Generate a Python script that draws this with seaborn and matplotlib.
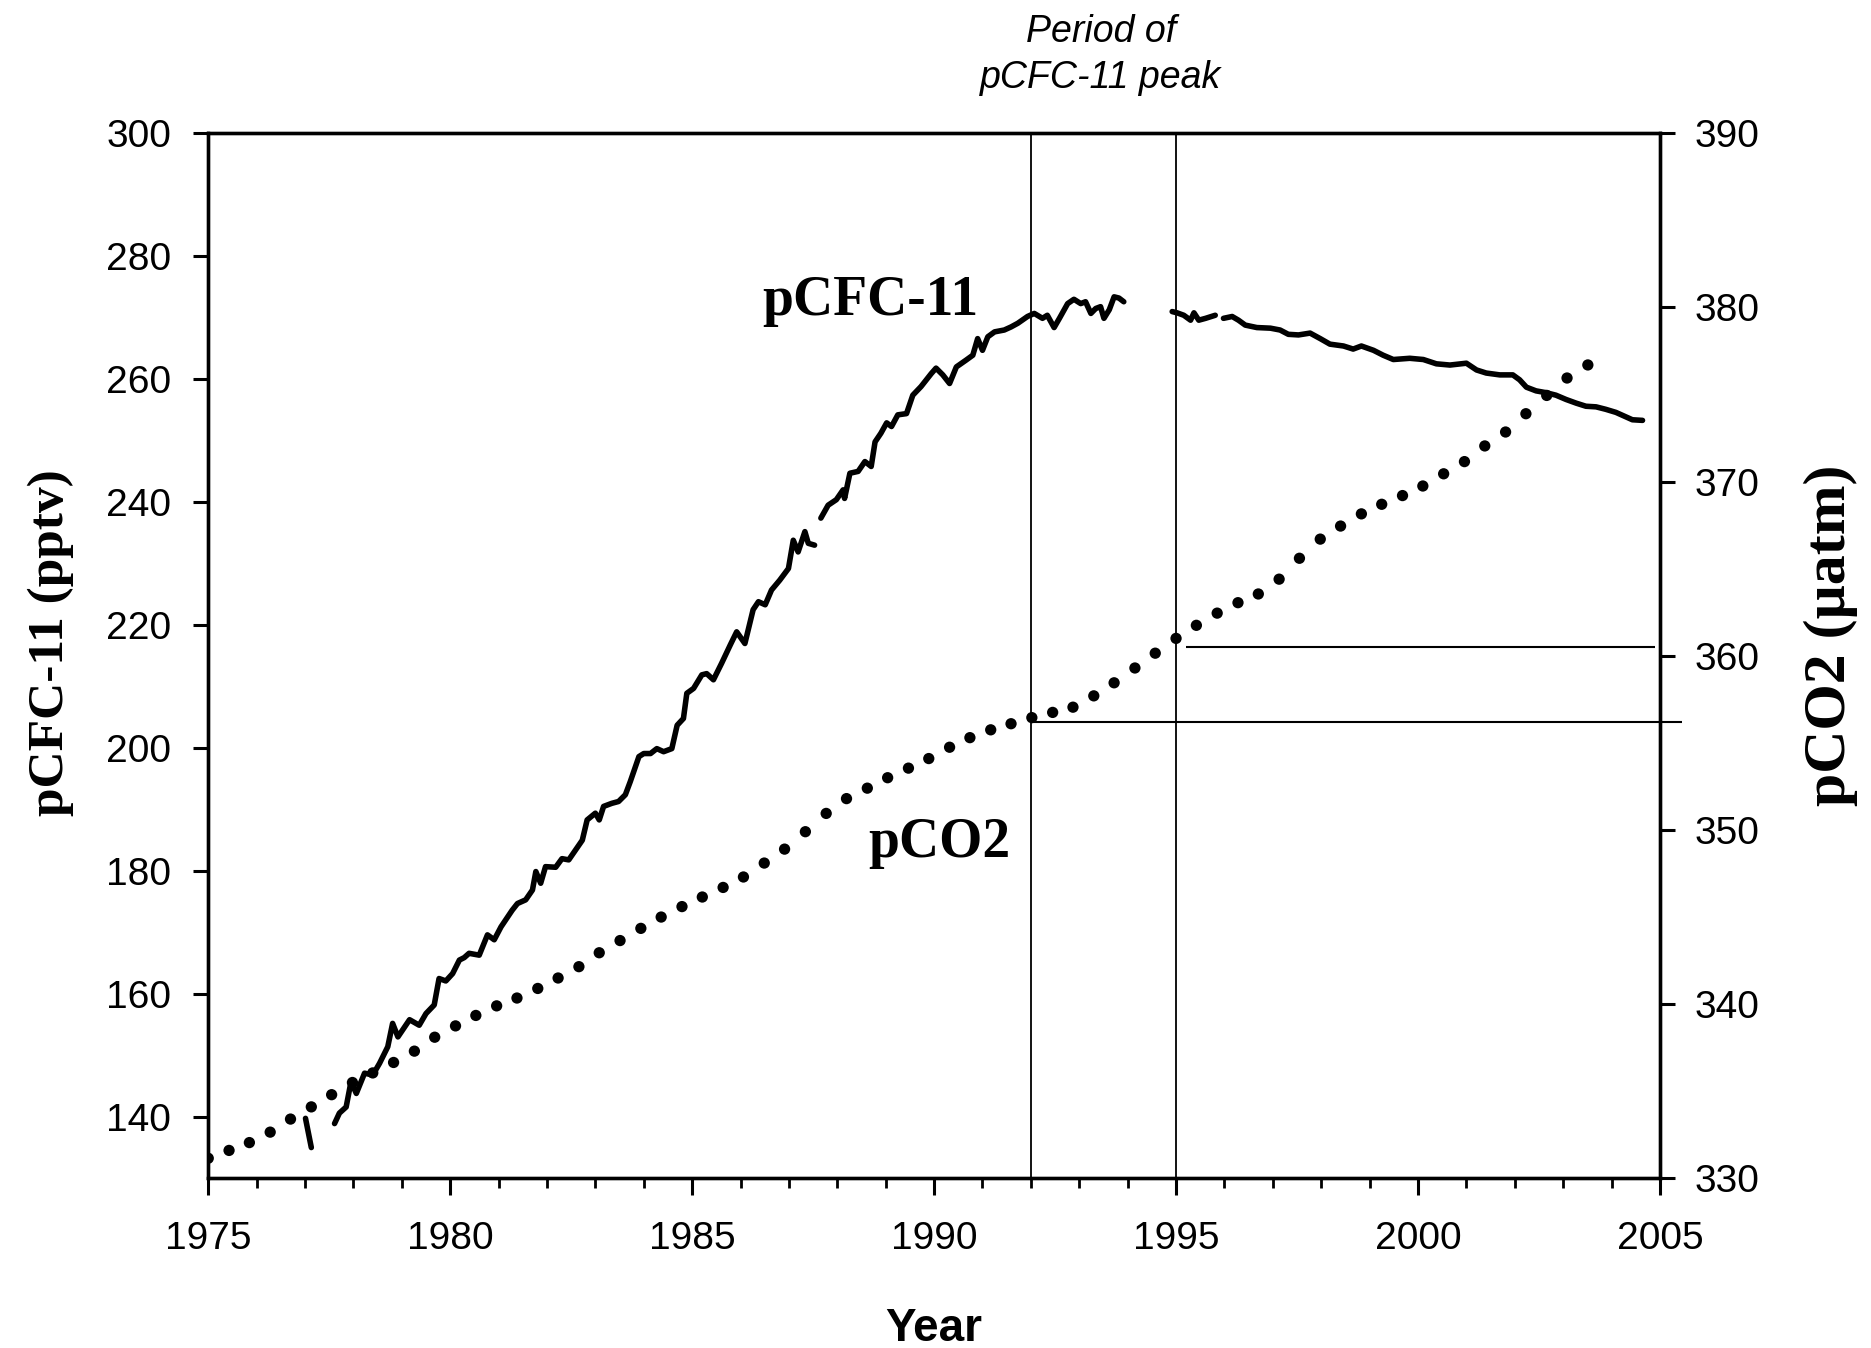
import numpy as np
import pandas as pd
import matplotlib
matplotlib.use("Agg")
import matplotlib.pyplot as plt
import matplotlib.transforms as mtransforms
from matplotlib.ticker import MultipleLocator
import seaborn as sns

# ---------------- data ----------------
pco2_years = [1975.00, 1975.43, 1975.85, 1976.28, 1976.70, 1977.13, 1977.55, 1977.98,
              1978.40, 1978.83, 1979.26, 1979.68, 1980.11, 1980.53, 1980.96, 1981.38,
              1981.81, 1982.23, 1982.66, 1983.08, 1983.51, 1983.94, 1984.36, 1984.79,
              1985.21, 1985.64, 1986.06, 1986.49, 1986.91, 1987.34, 1987.77, 1988.19,
              1988.62, 1989.04, 1989.47, 1989.89, 1990.32, 1990.74, 1991.17, 1991.59,
              1992.02, 1992.45, 1992.87, 1993.30, 1993.72, 1994.15, 1994.57, 1995.00,
              1995.42, 1995.85, 1996.28, 1996.70, 1997.13, 1997.55, 1997.98, 1998.40,
              1998.83, 1999.25, 1999.68, 2000.10, 2000.53, 2000.96, 2001.38, 2001.81,
              2002.23, 2002.66, 2003.08, 2003.51]
pco2_values = [331.15, 331.6, 332.05, 332.65, 333.4, 334.1, 334.8, 335.5,
               336.05, 336.65, 337.3, 338.1, 338.75, 339.35, 339.9, 340.35,
               340.9, 341.5, 342.15, 342.95, 343.65, 344.35, 345.0, 345.6,
               346.15, 346.7, 347.3, 348.1, 348.9, 349.9, 350.95, 351.8,
               352.4, 353.0, 353.55, 354.1, 354.75, 355.3, 355.75, 356.1,
               356.45, 356.75, 357.05, 357.7, 358.45, 359.3, 360.15, 361.0,
               361.75, 362.45, 363.05, 363.55, 364.4, 365.6, 366.7, 367.45,
               368.15, 368.7, 369.2, 369.75, 370.45, 371.15, 372.05, 372.85,
               373.9, 374.95, 375.95, 376.7]

# pCFC-11 record, split into the separate pieces drawn in the reference
cfc_seg1_years = [1977.01, 1977.13]
cfc_seg1_values = [139.75, 135.0]

cfc_seg2_years = [1977.61, 1977.71, 1977.85, 1977.95, 1978.06, 1978.23, 1978.40, 1978.54,
                  1978.71, 1978.81, 1978.92, 1979.16, 1979.36, 1979.50, 1979.67, 1979.77,
                  1979.91, 1980.05, 1980.19, 1980.29, 1980.39, 1980.60, 1980.77, 1980.91,
                  1981.05, 1981.28, 1981.39, 1981.56, 1981.70, 1981.77, 1981.87, 1981.97,
                  1982.18, 1982.31, 1982.45, 1982.73, 1982.83, 1983.00, 1983.08, 1983.17,
                  1983.34, 1983.48, 1983.62, 1983.72, 1983.90, 1984.00, 1984.14, 1984.27,
                  1984.41, 1984.58, 1984.69, 1984.82, 1984.89, 1985.03, 1985.20, 1985.30,
                  1985.44, 1985.61, 1985.79, 1985.92, 1986.09, 1986.26, 1986.37, 1986.51,
                  1986.64, 1986.81, 1986.99, 1987.09, 1987.19, 1987.33, 1987.40, 1987.53]
cfc_seg2_values = [138.9, 140.6, 141.6, 145.7, 143.8, 147.1, 146.8, 148.7,
                   151.4, 155.2, 153.0, 155.8, 154.9, 156.8, 158.2, 162.5,
                   162.1, 163.3, 165.5, 165.9, 166.6, 166.3, 169.6, 168.8,
                   170.9, 173.6, 174.7, 175.3, 176.9, 179.9, 178.0, 180.7,
                   180.6, 182.0, 181.8, 185.0, 188.3, 189.4, 188.3, 190.5,
                   191.0, 191.3, 192.4, 194.5, 198.6, 199.1, 199.1, 199.9,
                   199.4, 199.9, 203.7, 204.8, 208.9, 209.7, 211.9, 212.1,
                   211.1, 213.8, 216.8, 218.9, 217.0, 222.5, 223.8, 223.3,
                   225.7, 227.3, 229.2, 233.8, 231.9, 235.2, 233.3, 233.0]

cfc_seg3_years = [1987.66, 1987.81, 1987.98, 1988.12, 1988.15, 1988.26, 1988.43, 1988.57,
                  1988.70, 1988.78, 1988.90, 1989.02, 1989.12, 1989.25, 1989.43, 1989.56,
                  1989.73, 1989.94, 1990.04, 1990.18, 1990.32, 1990.46, 1990.66, 1990.80,
                  1990.90, 1991.00, 1991.11, 1991.25, 1991.45, 1991.59, 1991.73, 1991.93,
                  1992.07, 1992.24, 1992.34, 1992.48, 1992.59, 1992.76, 1992.89, 1993.03,
                  1993.13, 1993.24, 1993.34, 1993.44, 1993.51, 1993.62, 1993.72, 1993.82,
                  1993.92]
cfc_seg3_values = [237.4, 239.5, 240.4, 242.0, 240.6, 244.7, 245.0, 246.6,
                   245.8, 249.8, 251.2, 252.9, 252.3, 254.2, 254.4, 257.4,
                   258.8, 260.9, 261.8, 260.7, 259.3, 262.0, 263.1, 263.9,
                   266.6, 264.7, 266.9, 267.7, 268.0, 268.5, 269.1, 270.2,
                   270.7, 269.9, 270.4, 268.4, 269.9, 272.3, 273.0, 272.3,
                   272.6, 270.7, 271.5, 271.8, 269.9, 271.3, 273.4, 273.2,
                   272.6]

cfc_seg4_years = [1994.92, 1995.02, 1995.16, 1995.30, 1995.37, 1995.47, 1995.61, 1995.81]
cfc_seg4_values = [271.0, 270.8, 270.4, 269.6, 270.8, 269.6, 269.9, 270.4]

cfc_seg5_years = [1995.98, 1996.16, 1996.29, 1996.43, 1996.67, 1996.95, 1997.15, 1997.32,
                  1997.53, 1997.77, 1997.98, 1998.18, 1998.46, 1998.66, 1998.83, 1999.08,
                  1999.28, 1999.49, 1999.83, 2000.11, 2000.38, 2000.66, 2001.00, 2001.21,
                  2001.41, 2001.69, 2001.96, 2002.10, 2002.24, 2002.44, 2002.65, 2002.85,
                  2003.06, 2003.27, 2003.47, 2003.68, 2003.88, 2004.09, 2004.26, 2004.43,
                  2004.64]
cfc_seg5_values = [269.9, 270.2, 269.6, 268.8, 268.4, 268.3, 268.0, 267.3,
                   267.2, 267.5, 266.6, 265.7, 265.4, 264.9, 265.4, 264.7,
                   263.9, 263.2, 263.4, 263.2, 262.5, 262.3, 262.6, 261.5,
                   261.0, 260.7, 260.7, 259.9, 258.7, 258.1, 257.8, 257.4,
                   256.7, 256.1, 255.6, 255.5, 255.1, 254.6, 254.0, 253.4,
                   253.3]

# peak-period markers and pCO2 reference levels
peak_years = [1992, 1995]
ref_pco2 = [356.2, 360.5]
ref_start = [1992.0, 1995.2]
ref_end = [2005.45, 2004.9]

x_ticks = [1975, 1980, 1985, 1990, 1995, 2000, 2005]
left_ticks = [140, 160, 180, 200, 220, 240, 260, 280, 300]
right_ticks = [330, 340, 350, 360, 370, 380, 390]

# ---------------- build frames ----------------
segs = [(cfc_seg1_years, cfc_seg1_values), (cfc_seg2_years, cfc_seg2_values),
        (cfc_seg3_years, cfc_seg3_values), (cfc_seg4_years, cfc_seg4_values),
        (cfc_seg5_years, cfc_seg5_values)]
cfc_df = pd.concat([pd.DataFrame({"year": y, "cfc": v, "seg": i})
                    for i, (y, v) in enumerate(segs)], ignore_index=True)
pco2_df = pd.DataFrame({"year": pco2_years, "pco2": pco2_values})

# ---------------- style ----------------
sns.set_theme(style="ticks")
plt.rcParams["font.family"] = ["Liberation Sans", "DejaVu Sans"]
plt.rcParams["axes.linewidth"] = 2.4
plt.rcParams["text.color"] = "black"
plt.rcParams["axes.labelcolor"] = "black"
plt.rcParams["xtick.color"] = "black"
plt.rcParams["ytick.color"] = "black"
plt.rcParams["axes.edgecolor"] = "black"

fig = plt.figure(figsize=(18.71, 13.48), dpi=100)
ax = fig.add_axes([0.1113, 0.1259, 0.8872 - 0.1113, 0.9011 - 0.1259])
ax2 = ax.twinx()

sns.lineplot(data=cfc_df, x="year", y="cfc", units="seg", estimator=None,
             color="black", linewidth=4.0, ax=ax, legend=False)
sns.scatterplot(data=pco2_df, x="year", y="pco2", color="black", s=66,
                edgecolor="none", ax=ax2, legend=False, zorder=3)

for yr in peak_years:
    ax.axvline(yr, color="black", linewidth=1.3, zorder=1)
ax2.hlines(ref_pco2, ref_start, ref_end, color="black", linewidth=1.5, clip_on=False)

ax.set_xlim(1975, 2005)
ax.set_ylim(130, 300)
ax2.set_ylim(330, 390)
ax.set_xticks(x_ticks)
ax.xaxis.set_minor_locator(MultipleLocator(1))
ax.set_yticks(left_ticks)
ax2.set_yticks(right_ticks)

for a in (ax, ax2):
    for s in a.spines.values():
        s.set_visible(True)
        s.set_linewidth(2.4)
        s.set_color("black")

ax.tick_params(axis="x", which="major", length=12, width=2.2, pad=19,
               labelsize=28, colors="black", bottom=True, top=False)
ax.tick_params(axis="x", which="minor", length=7.2, width=2.0, bottom=True, top=False)
ax.tick_params(axis="y", which="major", length=10.8, width=2.2, pad=16,
               labelsize=28, colors="black", left=True, right=False)
ax2.tick_params(axis="y", which="major", length=10.8, width=2.2, pad=14,
                labelsize=28, colors="black", right=True, left=False)

ax.set_xlabel("Year", fontsize=33, fontweight="bold", family=["Liberation Sans"],
              va="baseline", color="black")
ax.xaxis.set_label_coords(0.5, -0.1557)
ax.set_ylabel("pCFC-11 (pptv)", fontsize=37, fontweight="bold",
              family=["Liberation Serif"], va="center", color="black")
ax.yaxis.set_label_coords(-0.1084, 0.513)
ax2.set_ylabel("pCO2 (µatm)", fontsize=43, fontweight="bold",
               family=["Liberation Serif"], va="center", rotation=90, color="black")
ax2.yaxis.set_label_coords(1.118, 0.52)

ax.text(1990.92, 270.4, "pCFC-11", fontsize=40, fontweight="bold",
        family=["Liberation Serif"], ha="right", va="baseline", color="black")
ax.text(1991.57, 182.3, "pCO2", fontsize=40, fontweight="bold",
        family=["Liberation Serif"], ha="right", va="baseline", color="black")

trans = mtransforms.blended_transform_factory(ax.transData, ax.transAxes)
ax.text(1993.45, 1.0878, "Period of", transform=trans, fontsize=27,
        style="italic", ha="center", va="baseline", family=["Liberation Sans"],
        color="black")
ax.text(1993.45, 1.0432, "pCFC-11 peak", transform=trans, fontsize=27,
        style="italic", ha="center", va="baseline", family=["Liberation Sans"],
        color="black")

fig.savefig("out.png", dpi=100, facecolor="white")
